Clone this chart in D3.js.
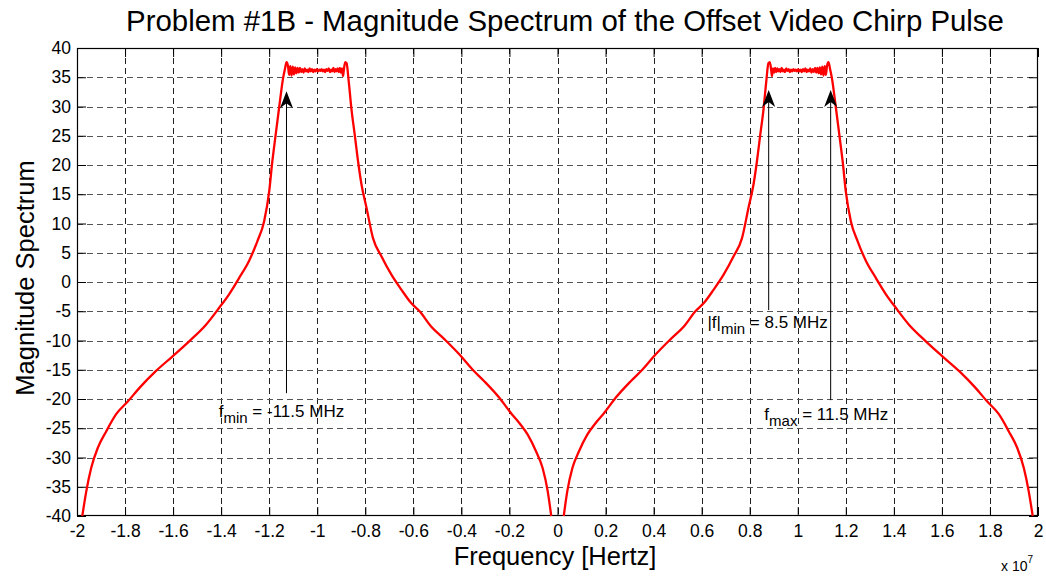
<!DOCTYPE html>
<html>
<head>
<meta charset="utf-8">
<script src="https://cdn.jsdelivr.net/npm/d3@7/dist/d3.min.js"></script>
<style>
  html, body { margin: 0; padding: 0; background: #fff; }
  svg { display: block; }
  text { font-family: "Liberation Sans", Arial, Helvetica, sans-serif; fill: #000; }
</style>
</head>
<body>
<svg id="chart" width="1046" height="576"></svg>
<script>
// ---------------- DATA (frequency in MHz, magnitude in dB) ----------------
const freqLeft = [
  -19.78, -19.61, -19.41, -19.13, -18.78, -18.37, -17.88, -17.40, -16.71, -16.02,
  -15.32, -14.63, -14.08, -13.67, -13.25, -12.84, -12.49, -12.21, -12.00, -11.87,
  -11.73, -11.59, -11.42, -11.34, -11.28, -11.22, -11.17, -11.12, -11.07, -11.02,
  -10.97, -10.92, -10.87, -10.82, -10.77, -10.72, -10.67, -10.62, -10.57, -10.52,
  -10.47, -10.42, -10.37, -10.32, -10.27, -10.22, -10.17, -10.12, -10.07, -10.02,
  -9.97, -9.92, -9.87, -9.82, -9.77, -9.72, -9.67, -9.62, -9.57, -9.52,
  -9.47, -9.42, -9.38, -9.33, -9.28, -9.24, -9.19, -9.15, -9.10, -9.06,
  -9.02, -8.97, -8.93, -8.90, -8.84, -8.78, -8.69, -8.58, -8.44, -8.30,
  -8.16, -7.95, -7.68, -7.33, -6.92, -6.50, -6.09, -5.74, -5.26, -4.70,
  -4.08, -3.53, -3.04, -2.42, -1.94, -1.59, -1.24, -0.90, -0.62, -0.41, -0.26
];
const magLeft = [
  -40.0, -35.7, -31.8, -28.3, -25.5, -22.6, -20.4, -18.1, -15.2, -12.7,
  -10.1, -7.3, -4.4, -2.1, 0.7, 3.6, 7.0, 10.4, 15.5, 20.6,
  25.2, 29.7, 34.9, 36.5, 37.6, 37.0, 35.4, 36.9, 35.3, 36.8,
  35.5, 36.7, 35.7, 36.6, 35.8, 36.6, 35.9, 36.4, 35.8, 36.5,
  36.0, 36.3, 35.9, 36.5, 36.0, 36.4, 35.9, 36.3, 36.0, 36.4,
  36.0, 36.3, 36.1, 36.4, 36.0, 36.3, 35.9, 36.4, 36.1, 36.5,
  35.9, 36.3, 36.0, 36.6, 35.9, 36.4, 36.0, 36.5, 35.9, 36.6,
  35.8, 36.5, 35.2, 36.0, 37.6, 37.4, 34.3, 29.7, 25.2, 20.6,
  16.7, 12.7, 7.5, 4.4, 1.3, -1.3, -3.6, -5.0, -7.6, -9.8,
  -12.4, -15.0, -17.0, -19.8, -22.4, -24.1, -26.1, -28.9, -31.8, -35.7, -40.0
];
const freqRight = [
  0.26, 0.41, 0.62, 0.90, 1.24, 1.59, 1.94, 2.42, 3.04, 3.53,
  4.08, 4.70, 5.26, 5.74, 6.09, 6.50, 6.92, 7.33, 7.68, 7.95,
  8.16, 8.30, 8.44, 8.58, 8.69, 8.78, 8.84, 8.90, 8.93, 8.97,
  9.02, 9.06, 9.10, 9.15, 9.19, 9.24, 9.28, 9.33, 9.38, 9.42,
  9.47, 9.52, 9.57, 9.62, 9.67, 9.72, 9.77, 9.82, 9.87, 9.92,
  9.97, 10.02, 10.07, 10.12, 10.17, 10.22, 10.27, 10.32, 10.37, 10.42,
  10.47, 10.52, 10.57, 10.62, 10.67, 10.72, 10.77, 10.82, 10.87, 10.92,
  10.97, 11.02, 11.07, 11.12, 11.17, 11.22, 11.28, 11.34, 11.42, 11.59,
  11.73, 11.87, 12.00, 12.21, 12.49, 12.84, 13.25, 13.67, 14.08, 14.63,
  15.32, 16.02, 16.71, 17.40, 17.88, 18.37, 18.78, 19.13, 19.41, 19.61, 19.78
];
const magRight = [
  -40.0, -35.7, -31.8, -28.9, -26.1, -24.1, -22.4, -19.8, -17.0, -15.0,
  -12.4, -9.8, -7.6, -5.0, -3.6, -1.3, 1.3, 4.4, 7.5, 12.7,
  16.7, 20.6, 25.2, 29.7, 34.3, 37.4, 37.6, 36.0, 35.2, 36.5,
  35.8, 36.6, 35.9, 36.5, 36.0, 36.4, 35.9, 36.6, 36.0, 36.3,
  35.9, 36.5, 36.1, 36.4, 35.9, 36.3, 36.0, 36.4, 36.1, 36.3,
  36.0, 36.4, 36.0, 36.3, 35.9, 36.4, 36.0, 36.5, 35.9, 36.3,
  36.0, 36.5, 35.8, 36.4, 35.9, 36.6, 35.8, 36.6, 35.7, 36.7,
  35.5, 36.8, 35.3, 36.9, 35.4, 37.0, 37.6, 36.5, 34.9, 29.7,
  25.2, 20.6, 15.5, 10.4, 7.0, 3.6, 0.7, -2.1, -4.4, -7.3,
  -10.1, -12.7, -15.2, -18.1, -20.4, -22.6, -25.5, -28.3, -31.8, -35.7, -40.0
];

// axis ticks (x in units of 1e7 Hz)
const xTickValues = [-2, -1.8, -1.6, -1.4, -1.2, -1, -0.8, -0.6, -0.4, -0.2, 0,
                     0.2, 0.4, 0.6, 0.8, 1, 1.2, 1.4, 1.6, 1.8, 2];
const xTickLabels = ["-2", "-1.8", "-1.6", "-1.4", "-1.2", "-1", "-0.8", "-0.6", "-0.4", "-0.2", "0",
                     "0.2", "0.4", "0.6", "0.8", "1", "1.2", "1.4", "1.6", "1.8", "2"];
const yTickValues = [40, 35, 30, 25, 20, 15, 10, 5, 0, -5, -10, -15, -20, -25, -30, -35, -40];
const yTickLabels = ["40", "35", "30", "25", "20", "15", "10", "5", "0", "-5", "-10", "-15",
                     "-20", "-25", "-30", "-35", "-40"];

// annotations: arrow (freq MHz, tip dB, tail dB) and label anchor (freq MHz, baseline dB)
const arrows = [
  { f: -11.28, tip: 32.6, tail: -19.0 },
  { f: 8.79,   tip: 32.8, tail: -4.8 },
  { f: 11.37,  tip: 32.8, tail: -20.2 }
];
const labels = [
  { f: -14.10, y: -23.1, main: "f", sub: "min", rest: " = -11.5 MHz" },
  { f: 6.24,   y: -7.9,  main: "|f|", sub: "min", rest: " = 8.5 MHz" },
  { f: 8.61,   y: -23.6, main: "f", sub: "max", rest: " = 11.5 MHz" }
];

const titleText = "Problem #1B - Magnitude Spectrum of the Offset Video Chirp Pulse";
const xLabelText = "Frequency [Hertz]";
const yLabelText = "Magnitude Spectrum";

// ---------------- DRAWING ----------------
const svg = d3.select("#chart");
const L = 77, R = 1038, T = 48, B = 516;

const x = d3.scaleLinear().domain([-2, 2]).range([L, R]);   // units of 1e7 Hz
const y = d3.scaleLinear().domain([-40, 40]).range([B, T]);
const fx = mhz => x(mhz / 10);

svg.append("rect").attr("x", 0).attr("y", 0).attr("width", 1046).attr("height", 576).attr("fill", "#fff");

// grid
const grid = svg.append("g").attr("shape-rendering", "crispEdges");
grid.selectAll("line.gx").data(xTickValues.slice(1, -1)).enter().append("line")
  .attr("x1", d => Math.round(x(d)) + 0.5).attr("x2", d => Math.round(x(d)) + 0.5)
  .attr("y1", T).attr("y2", B)
  .attr("stroke", "#222").attr("stroke-width", 1).attr("stroke-dasharray", "6,4");
grid.selectAll("line.gy").data(yTickValues.slice(1, -1)).enter().append("line")
  .attr("y1", d => Math.round(y(d)) + 0.5).attr("y2", d => Math.round(y(d)) + 0.5)
  .attr("x1", L).attr("x2", R)
  .attr("stroke", "#555").attr("stroke-width", 1).attr("stroke-dasharray", "6,4");

// axes (ticks inward)
const tickLen = 9;
const xAxisB = d3.axisBottom(x).tickValues(xTickValues).tickSize(-tickLen).tickPadding(9)
  .tickFormat((d, i) => xTickLabels[i]);
const xAxisT = d3.axisTop(x).tickValues(xTickValues).tickSize(-tickLen).tickFormat("");
const yAxisL = d3.axisLeft(y).tickValues(yTickValues).tickSize(-tickLen).tickPadding(6)
  .tickFormat((d, i) => yTickLabels[i]);
const yAxisR = d3.axisRight(y).tickValues(yTickValues).tickSize(-tickLen).tickFormat("");

function styleAxis(g) {
  g.select(".domain").remove();
  g.selectAll(".tick line").attr("stroke", "#000");
  g.selectAll(".tick text").attr("fill", "#000")
    .style("font-family", '"Liberation Sans", Arial, sans-serif').style("font-size", "17.5px");
}
svg.append("g").attr("transform", `translate(0,${B})`).call(xAxisB).call(styleAxis);
svg.append("g").attr("transform", `translate(0,${T})`).call(xAxisT).call(styleAxis);
svg.append("g").attr("transform", `translate(${L},0)`).call(yAxisL).call(styleAxis);
svg.append("g").attr("transform", `translate(${R},0)`).call(yAxisR).call(styleAxis);

// frame
svg.append("rect").attr("x", L + 0.5).attr("y", T + 0.5).attr("width", R - L - 1).attr("height", B - T - 1)
  .attr("fill", "none").attr("stroke", "#000").attr("stroke-width", 1.2);

// spectrum line
const line = d3.line().x(d => fx(d[0])).y(d => y(d[1])).curve(d3.curveMonotoneX);
const leftPts = freqLeft.map((f, i) => [f, magLeft[i]]);
const rightPts = freqRight.map((f, i) => [f, magRight[i]]);
[leftPts, rightPts].forEach(pts => {
  svg.append("path").datum(pts).attr("d", line)
    .attr("fill", "none").attr("stroke", "#ff0000").attr("stroke-width", 2.3)
    .attr("stroke-linejoin", "round");
});

// arrows
const ag = svg.append("g");
arrows.forEach(a => {
  const ax = fx(a.f), yt = y(a.tip), yb = y(a.tail);
  ag.append("line").attr("x1", ax).attr("x2", ax).attr("y1", yb).attr("y2", yt + 8)
    .attr("stroke", "#000").attr("stroke-width", 1);
  const hw = 6.5, hl = 17;
  ag.append("path")
    .attr("d", `M${ax},${yt} L${ax - hw},${yt + hl} L${ax},${yt + hl - 5} L${ax + hw},${yt + hl} Z`)
    .attr("fill", "#000");
});

// annotation labels
labels.forEach(l => {
  const t = svg.append("text").attr("x", fx(l.f)).attr("y", y(l.y)).style("font-size", "17px");
  t.append("tspan").text(l.main);
  t.append("tspan").attr("dy", 6).style("font-size", "15px").text(l.sub);
  t.append("tspan").attr("dy", -6).text(l.rest);
});

// title and axis labels
svg.append("text").attr("x", 565).attr("y", 31).attr("text-anchor", "middle")
  .style("font-size", "29.4px").text(titleText);
svg.append("text").attr("x", 555).attr("y", 565).attr("text-anchor", "middle")
  .style("font-size", "25.5px").text(xLabelText);
svg.append("text").attr("transform", "translate(34,278) rotate(-90)").attr("text-anchor", "middle")
  .style("font-size", "25.5px").text(yLabelText);

// exponent label
const ex = svg.append("text").attr("x", 1001).attr("y", 571).style("font-size", "14px");
ex.append("tspan").text("x 10");
ex.append("tspan").attr("dy", -8).style("font-size", "10px").text("7");
</script>
</body>
</html>
